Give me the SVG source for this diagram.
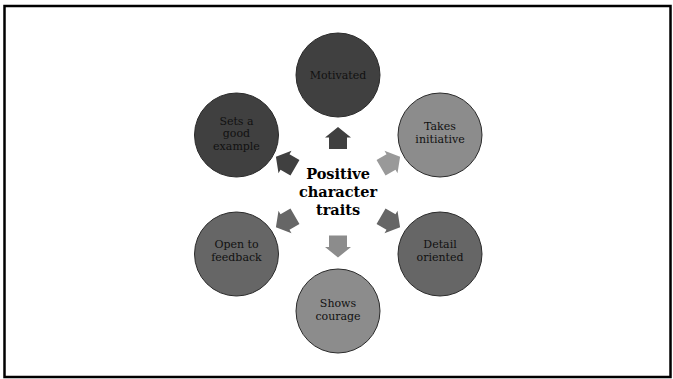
<svg xmlns="http://www.w3.org/2000/svg" width="673" height="379" viewBox="0 0 673 379">
<defs>
<style>
.node{stroke:#2a2a2a;stroke-width:1}
.t{font-family:"DejaVu Serif","Liberation Serif",serif;font-size:11px;fill:#111;text-anchor:middle}
.title{font-family:"DejaVu Serif","Liberation Serif",serif;font-size:14.5px;font-weight:bold;fill:#000;text-anchor:middle}
.dark{fill:#404040}
.mid{fill:#666666}
.light{fill:#8c8c8c}
</style>
<path id="arr" d="M0,-10.5 L13,0 L9,0 L9,11.5 L-9,11.5 L-9,0 L-13,0 Z"/>
</defs>
<rect x="0" y="0" width="673" height="379" fill="#fff"/>
<rect x="4.5" y="6" width="666" height="371" fill="#fff" stroke="#000" stroke-width="2.5"/>

<g id="connectors">
<use href="#arr" class="dark" transform="translate(338,137.5)"/>
<use href="#arr" fill="#999999" transform="translate(391,162) rotate(60)"/>
<use href="#arr" class="mid" transform="translate(391,222) rotate(120)"/>
<use href="#arr" class="light" transform="translate(338,247) rotate(180)"/>
<use href="#arr" class="mid" transform="translate(285,222) rotate(240)"/>
<use href="#arr" class="dark" transform="translate(285,162) rotate(300)"/>
</g>

<g id="center">
<text class="title" x="338" y="179">Positive</text>
<text class="title" x="338" y="197">character</text>
<text class="title" x="338" y="215">traits</text>
</g>

<g id="motivated">
<circle class="node dark" cx="338" cy="75" r="42"/>
<text class="t" x="338" y="78.5">Motivated</text>
</g>
<g id="takes-initiative">
<circle class="node light" cx="440" cy="135" r="42"/>
<text class="t" x="440" y="130">Takes</text>
<text class="t" x="440" y="143">initiative</text>
</g>
<g id="detail-oriented">
<circle class="node mid" cx="440" cy="254" r="42"/>
<text class="t" x="440" y="247.5">Detail</text>
<text class="t" x="440" y="260.5">oriented</text>
</g>
<g id="shows-courage">
<circle class="node light" cx="338" cy="311" r="42"/>
<text class="t" x="338" y="307">Shows</text>
<text class="t" x="338" y="320">courage</text>
</g>
<g id="open-to-feedback">
<circle class="node mid" cx="236.5" cy="254" r="42"/>
<text class="t" x="236.5" y="247.5">Open to</text>
<text class="t" x="236.5" y="260.5">feedback</text>
</g>
<g id="sets-a-good-example">
<circle class="node dark" cx="236.5" cy="135" r="42"/>
<text class="t" x="236.5" y="124.5">Sets a</text>
<text class="t" x="236.5" y="137">good</text>
<text class="t" x="236.5" y="149.5">example</text>
</g>
</svg>
